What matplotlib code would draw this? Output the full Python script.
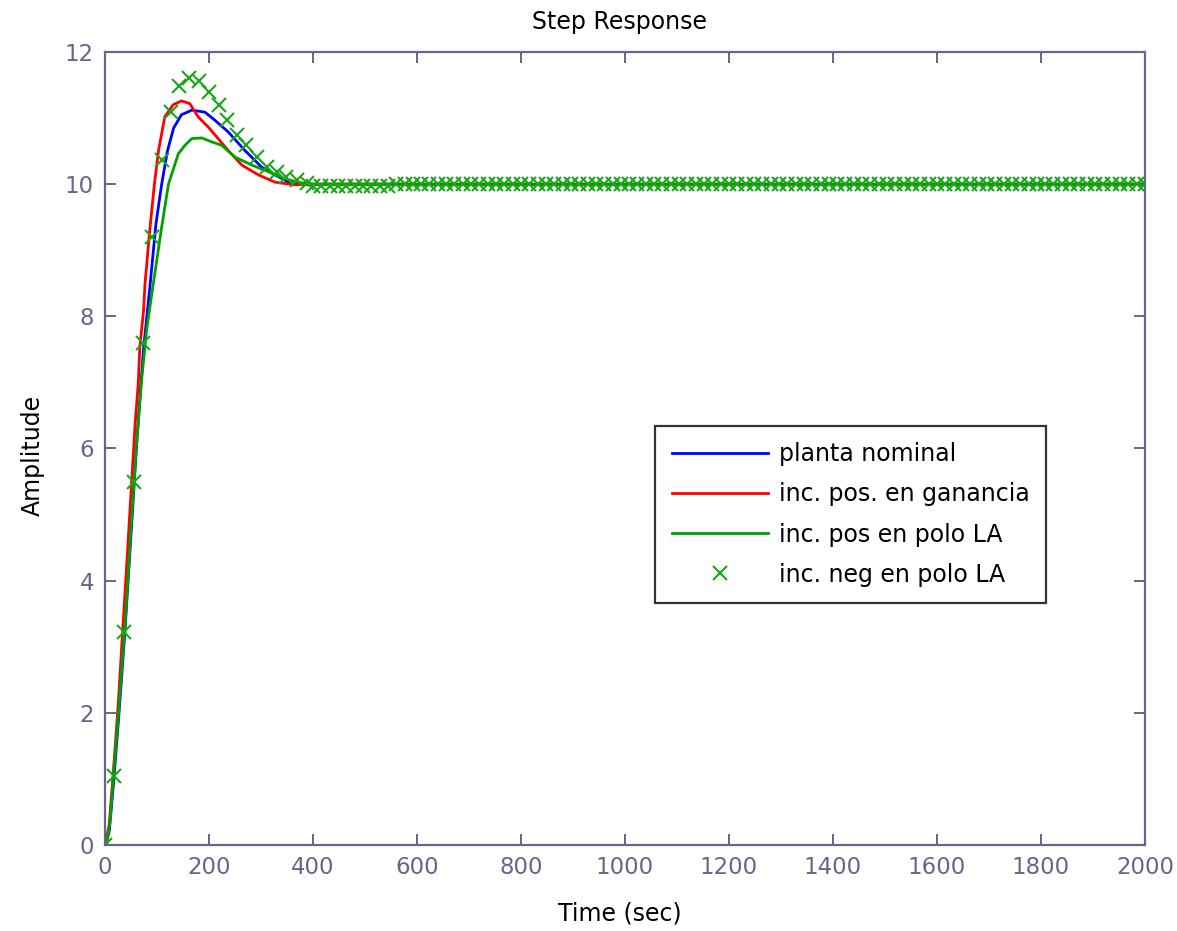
import matplotlib
matplotlib.use("Agg")
import matplotlib.pyplot as plt

# planta nominal
t_nom = [0, 8, 16, 26, 38, 50, 62, 74, 87, 98, 109, 120, 132, 147, 167, 192,
         208, 237, 269, 301, 327, 353, 391, 420, 2000]
y_nom = [0, 0.2, 0.9, 1.9, 3.2, 4.7, 6.2, 7.5, 8.5, 9.4, 10.0, 10.5, 10.85,
         11.05, 11.12, 11.09, 10.99, 10.79, 10.51, 10.26, 10.14, 10.03, 9.99,
         10.0, 10.0]

# inc. pos. en ganancia
t_gan = [0, 8, 16, 26, 36, 43, 49, 58, 64, 67, 74, 77, 86, 95, 103, 115, 131,
         147, 163, 179, 199, 237, 263, 295, 327, 365, 400, 2000]
y_gan = [0, 0.3, 1.1, 2.2, 3.5, 4.4, 5.2, 6.38, 6.99, 7.54, 8.07, 8.5, 9.3,
         10.0, 10.51, 11.02, 11.2, 11.26, 11.22, 11.02, 10.86, 10.51, 10.29,
         10.14, 10.03, 9.99, 10.0, 10.0]

# inc. pos en polo LA
t_pos = [0, 3, 10, 16, 26, 32, 40, 50, 60, 70, 80, 93, 108, 122, 141, 154,
         167, 186, 205, 224, 250, 282, 314, 346, 378, 417, 2000]
y_pos = [0, 0, 0.38, 1.03, 1.99, 2.65, 3.5, 4.8, 6.0, 7.0, 7.8, 8.5, 9.3,
         10.0, 10.46, 10.59, 10.69, 10.70, 10.64, 10.59, 10.41, 10.29, 10.19,
         10.08, 10.02, 9.99, 10.0]

# inc. neg en polo LA (markers only)
t_neg = [0, 17, 36, 55, 73, 91, 110, 127, 143, 162, 181, 200, 220, 234, 253,
         272, 292, 311, 330, 349, 369, 388,
         400, 416, 432, 448, 464, 480, 496, 512, 528, 544, 560, 576, 592, 608,
         624, 640, 656, 672, 688, 704, 720, 736, 752, 768, 784, 800, 816, 832,
         848, 864, 880, 896, 912, 928, 944, 960, 976, 992, 1008, 1024, 1040,
         1056, 1072, 1088, 1104, 1120, 1136, 1152, 1168, 1184, 1200, 1216,
         1232, 1248, 1264, 1280, 1296, 1312, 1328, 1344, 1360, 1376, 1392,
         1408, 1424, 1440, 1456, 1472, 1488, 1504, 1520, 1536, 1552, 1568,
         1584, 1600, 1616, 1632, 1648, 1664, 1680, 1696, 1712, 1728, 1744,
         1760, 1776, 1792, 1808, 1824, 1840, 1856, 1872, 1888, 1904, 1920,
         1936, 1952, 1968, 1984, 2000]
y_neg = [0, 1.04, 3.22, 5.5, 7.6, 9.2, 10.36, 11.09, 11.48, 11.6, 11.56, 11.4,
         11.2, 10.97, 10.74, 10.59, 10.41, 10.26, 10.19, 10.11, 10.06, 10.02]
y_neg = y_neg + [9.97] * 10 + [10.0] * (len(t_neg) - len(y_neg) - 10)

labels = ['planta nominal', 'inc. pos. en ganancia',
          'inc. pos en polo LA', 'inc. neg en polo LA']

plt.rcParams['font.family'] = ['DejaVu Sans']
axcol = '#66668a'

fig = plt.figure(figsize=(11.77, 9.31), dpi=100)
ax = fig.add_axes([105/1177, 1 - 845/931, 1040/1177, 793/931])

ax.plot(t_nom, y_nom, color='#0000ff', lw=2, label=labels[0])
ax.plot(t_gan, y_gan, color='#ff0000', lw=2, label=labels[1])
ax.plot(t_pos, y_pos, color='#00a000', lw=2, label=labels[2])
ax.plot(t_neg, y_neg, 'x', color='#18a818', ms=10, mew=1.5, label=labels[3])

ax.set_xlim(0, 2000)
ax.set_ylim(0, 12)
ax.set_xticks(range(0, 2001, 200))
ax.set_yticks(range(0, 13, 2))

for s in ax.spines.values():
    s.set_color(axcol)
    s.set_linewidth(1.6)
ax.tick_params(direction='in', top=True, right=True, length=8, width=1.4,
               color=axcol, labelcolor=axcol, labelsize=16.5, pad=8)

fig.text(620/1177, 1 - 22/931, 'Step Response', ha='center', va='center',
         fontsize=17)
fig.text(620/1177, 1 - 913/931, 'Time (sec)', ha='center', va='center',
         fontsize=17)
fig.text(33/1177, 1 - 455/931, 'Amplitude', ha='center', va='center',
         rotation=90, fontsize=17)

leg = ax.legend(loc='lower left', bbox_to_anchor=(0.529, 0.305), fontsize=17,
                frameon=True, fancybox=False, handlelength=4.1,
                handletextpad=0.45, labelspacing=0.68, borderpad=0.7,
                borderaxespad=0)
leg.get_frame().set_edgecolor('black')
leg.get_frame().set_linewidth(1.6)

fig.savefig('out.png', dpi=100)
